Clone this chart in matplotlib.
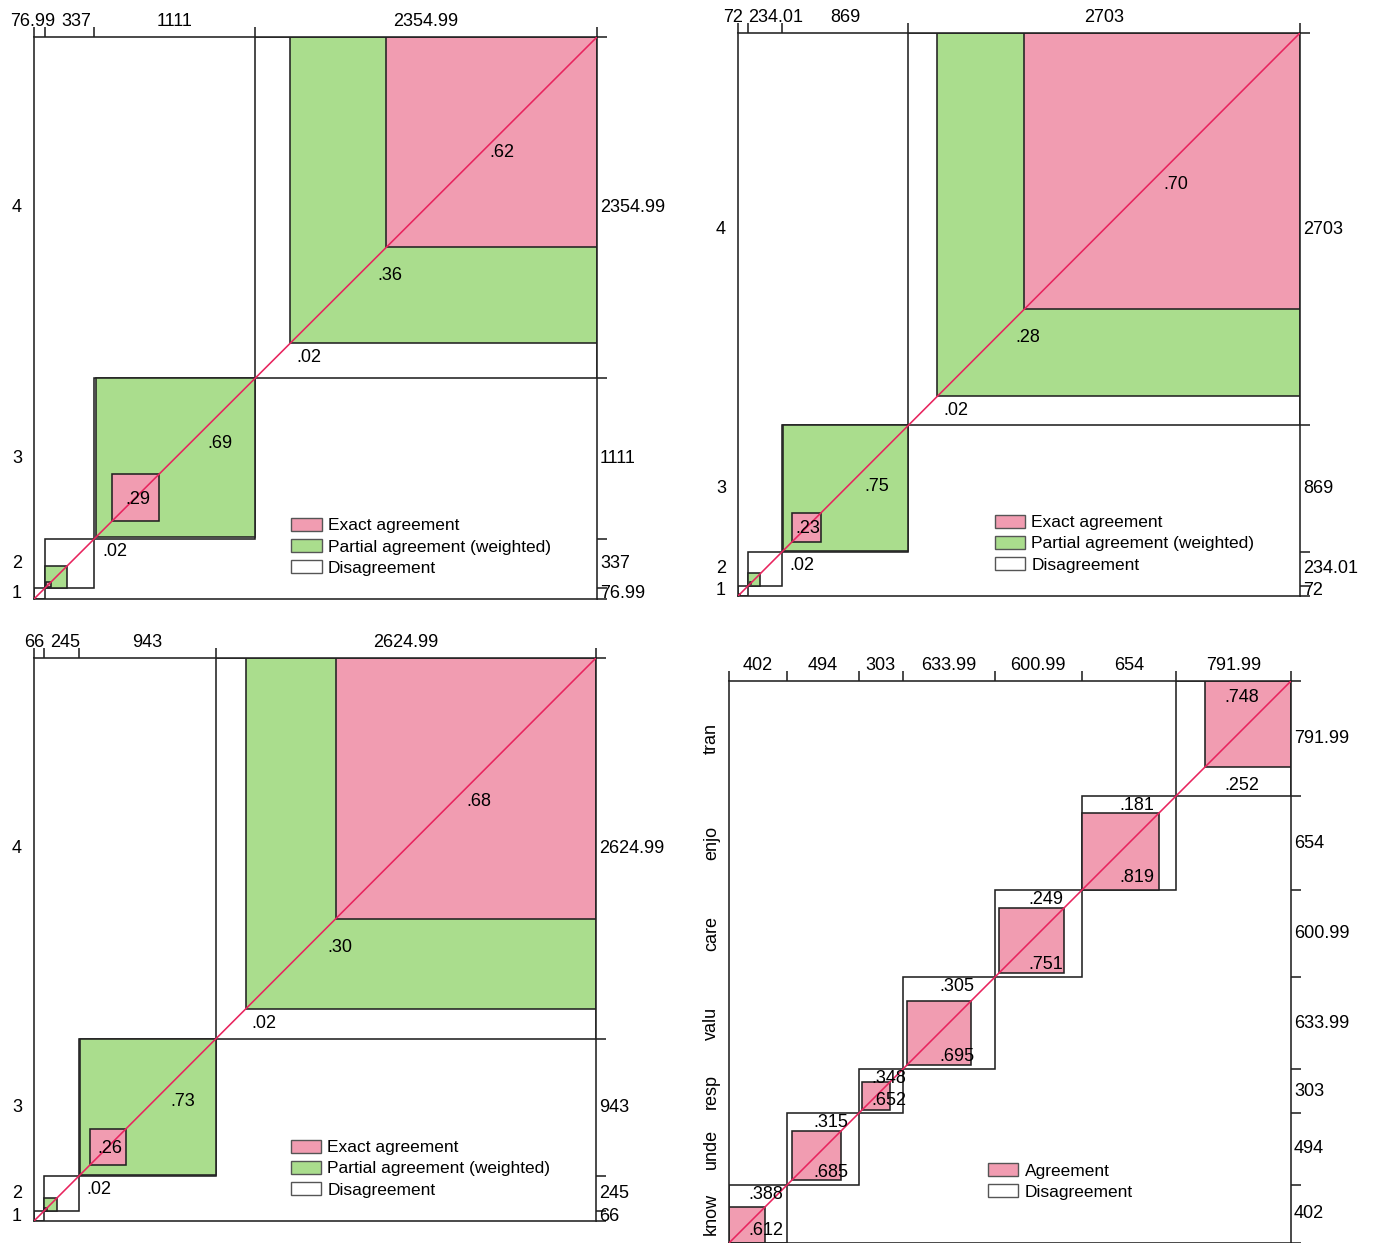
"""Agreement charts (Bangdiwala style) for four rating tables, saved to out.png."""
import numpy as np
import matplotlib
matplotlib.use("Agg")
import matplotlib.pyplot as plt
from matplotlib.patches import Rectangle, Patch

plt.rcParams["font.family"] = ["Liberation Sans", "DejaVu Sans"]

# ---------------------------------------------------------------------------
# Data
# ---------------------------------------------------------------------------
levels = ["1", "2", "3", "4"]

# panel 1 (top left)
p1_totals = [76.99, 337, 1111, 2354.99]
p1_table = [
    [2, 7, 14, 53.99],
    [7, 31, 112, 187],
    [14, 112, 324, 661],
    [53.99, 187, 661, 1453],
]
p1_exact = [None, None, ".29", ".62"]
p1_partial = [None, None, ".69", ".36"]
p1_disagree = [None, None, ".02", ".02"]

# panel 2 (top right)
p2_totals = [72, 234.01, 869, 2703]
p2_table = [
    [4.01, 12, 7, 48.99],
    [12, 9, 62, 151.01],
    [7, 62, 200, 600],
    [48.99, 151.01, 600, 1903],
]
p2_exact = [None, None, ".23", ".70"]
p2_partial = [None, None, ".75", ".28"]
p2_disagree = [None, None, ".02", ".02"]

# panel 3 (bottom left)
p3_totals = [66, 245, 943, 2624.99]
p3_table = [
    [2.01, 6, 7, 50.99],
    [6, 15, 69, 155],
    [7, 69, 245, 622],
    [50.99, 155, 622, 1797],
]
p3_exact = [None, None, ".26", ".68"]
p3_partial = [None, None, ".73", ".30"]
p3_disagree = [None, None, ".02", ".02"]

# panel 4 (bottom right), exact agreement only
p4_cats = ["know", "unde", "resp", "valu", "care", "enjo", "tran"]
p4_totals = [402, 494, 303, 633.99, 600.99, 654, 791.99]
p4_agree = [0.612, 0.685, 0.652, 0.695, 0.751, 0.819, 0.748]
p4_before = [0, 35, 21, 28, 28, 0, 200]   # disagreements placed before the diagonal cell

# ---------------------------------------------------------------------------
# Style
# ---------------------------------------------------------------------------
W, H, DPI = 1373, 1243, 100
PINK = "#f19cb1"
GREEN = "#aadd8d"
EDGE = "#222222"
DIAG = "#e8245e"
LW = 1.15
FS = 13


def px(v):
    """pixels -> points"""
    return v * 72 / DPI


def add_axes_px(fig, left, top, right, bottom):
    return fig.add_axes([left / W, 1 - bottom / H, (right - left) / W, (bottom - top) / H])


def frame(ax, cats, totals, rotate_left=False):
    edges = np.concatenate([[0], np.cumsum(totals)])
    n = edges[-1]
    ax.set_xlim(0, n)
    ax.set_ylim(0, n)
    for s in ax.spines.values():
        s.set_linewidth(LW)
        s.set_color(EDGE)
        s.set_zorder(5)
    ax.xaxis.tick_top()
    ax.yaxis.tick_right()
    ax.set_xticks(edges)
    ax.set_yticks(edges)
    ax.tick_params(direction="out", length=px(10), width=LW, color=EDGE,
                   labeltop=False, labelbottom=False, labelleft=False, labelright=False)

    centers = (edges[:-1] + edges[1:]) / 2
    top_texts = []
    for c, v in zip(centers, totals):
        lbl = f"{v:g}"
        top_texts.append(ax.annotate(lbl, (c, 1), xycoords=("data", "axes fraction"),
                                     xytext=(0, px(11)), textcoords="offset points",
                                     ha="center", va="baseline", fontsize=FS))
        ax.annotate(lbl, (1, c), xycoords=("axes fraction", "data"),
                    xytext=(px(3), 0), textcoords="offset points",
                    ha="left", va="center", fontsize=FS)

    for c, name in zip(centers, cats):
        if rotate_left:
            ax.annotate(name, (0, c), xycoords=("axes fraction", "data"),
                        xytext=(px(-9), 0), textcoords="offset points",
                        ha="right", va="center", rotation=90, fontsize=FS)
        else:
            ax.annotate(name, (0, c), xycoords=("axes fraction", "data"),
                        xytext=(px(-12), 0), textcoords="offset points",
                        ha="right", va="center", fontsize=FS)
    ax.plot([0, n], [0, n], color=DIAG, lw=LW, zorder=6)
    return edges, top_texts


def note(ax, text, xy, dx, dy, ha="left", va="top"):
    ax.annotate(text, xy, xytext=(px(dx), px(dy)), textcoords="offset points",
                ha=ha, va=va, fontsize=FS, zorder=7)


def weighted_panel(ax, cats, totals, table, exact, partial, disagree):
    m = np.array(table, dtype=float)
    k = len(cats)
    edges, top_texts = frame(ax, cats, totals)
    for i in range(k):
        x0 = edges[i]
        w = totals[i]
        ax.add_patch(Rectangle((x0, x0), w, w, fc="white", ec=EDGE, lw=LW, zorder=1))
        lo_x, hi_x = m[i, :max(i - 1, 0)].sum(), m[i, :min(i + 2, k)].sum()
        lo_y, hi_y = m[:max(i - 1, 0), i].sum(), m[:min(i + 2, k), i].sum()
        ax.add_patch(Rectangle((x0 + lo_x, x0 + lo_y), hi_x - lo_x, hi_y - lo_y,
                               fc=GREEN, ec=EDGE, lw=LW, zorder=2))
        off_x, off_y = m[i, :i].sum(), m[:i, i].sum()
        d = m[i, i]
        ax.add_patch(Rectangle((x0 + off_x, x0 + off_y), d, d,
                               fc=PINK, ec=EDGE, lw=LW, zorder=3))
        if exact[i] is None:
            continue
        # exact label a little below-right of the square's centre
        cx = x0 + off_x + d * 0.55
        cy = x0 + off_y + d * 0.45
        note(ax, exact[i], (cx, cy), 0, 0, ha="center", va="center")
        if i < k - 1:
            mx = (x0 + off_x + d + x0 + hi_x) / 2
            my = (x0 + off_y + d + x0 + hi_y) / 2
            note(ax, partial[i], (mx, my), 0, -9)
        else:
            note(ax, partial[i], (x0 + off_x, x0 + off_y), 4, -20, ha="center")
        note(ax, disagree[i], (x0 + lo_x, x0 + lo_y), 6, -6)
    handles = [Patch(fc=PINK, ec="#555555", lw=1),
               Patch(fc=GREEN, ec="#555555", lw=1),
               Patch(fc="white", ec="#555555", lw=1)]
    names = ["Exact agreement", "Partial agreement (weighted)", "Disagreement"]
    ax.legend(handles, names, loc="upper left", bbox_to_anchor=(0.457, 0.144),
              frameon=False, fontsize=12.5, handlelength=1.75, handleheight=0.75,
              handletextpad=0.35, labelspacing=0.33, borderpad=0, borderaxespad=0)
    return top_texts


def exact_panel(ax, cats, totals, agree, before):
    edges, top_texts = frame(ax, cats, totals, rotate_left=True)
    for i in range(len(cats)):
        x0 = edges[i]
        w = totals[i]
        d = agree[i] * w
        off = before[i]
        after = w - off - d
        ax.add_patch(Rectangle((x0, x0), w, w, fc="white", ec=EDGE, lw=LW, zorder=1))
        ax.add_patch(Rectangle((x0 + off, x0 + off), d, d, fc=PINK, ec=EDGE, lw=LW, zorder=3))
        xc = x0 + w / 2
        a_txt = f"{agree[i]:.3f}".lstrip("0")
        d_txt = f"{1 - agree[i]:.3f}".lstrip("0")
        if off > after:
            note(ax, d_txt, (xc, x0), 8, 2, ha="center", va="bottom")
            note(ax, a_txt, (xc, x0 + w), 8, -8, ha="center", va="top")
        else:
            note(ax, d_txt, (xc, x0 + w), 8, -1, ha="center", va="top")
            note(ax, a_txt, (xc, x0), 8, 4, ha="center", va="bottom")
    handles = [Patch(fc=PINK, ec="#555555", lw=1), Patch(fc="white", ec="#555555", lw=1)]
    ax.legend(handles, ["Agreement", "Disagreement"], loc="upper left",
              bbox_to_anchor=(0.461, 0.142), frameon=False, fontsize=12.5,
              handlelength=1.75, handleheight=0.75, handletextpad=0.35,
              labelspacing=0.33, borderpad=0, borderaxespad=0)
    return top_texts


def spread(texts, renderer, gap=6):
    """Push neighbouring top labels apart where they would overlap."""
    boxes = [t.get_window_extent(renderer) for t in texts]
    shifts = [0.0] * len(texts)
    for i in range(len(texts) - 1):
        over = (boxes[i].x1 + shifts[i]) + gap - (boxes[i + 1].x0 + shifts[i + 1])
        if over > 0:
            shifts[i] -= over / 2
            shifts[i + 1] += over / 2
    for t, s in zip(texts, shifts):
        x, y = t.xyann
        t.xyann = (x + px(s), y)


fig = plt.figure(figsize=(W / DPI, H / DPI), dpi=DPI)
ax1 = add_axes_px(fig, 34, 37, 597, 599)
ax2 = add_axes_px(fig, 738, 33, 1300, 596)
ax3 = add_axes_px(fig, 34, 658, 596, 1221)
ax4 = add_axes_px(fig, 729, 681, 1291, 1243)

tops = [
    weighted_panel(ax1, levels, p1_totals, p1_table, p1_exact, p1_partial, p1_disagree),
    weighted_panel(ax2, levels, p2_totals, p2_table, p2_exact, p2_partial, p2_disagree),
    weighted_panel(ax3, levels, p3_totals, p3_table, p3_exact, p3_partial, p3_disagree),
    exact_panel(ax4, p4_cats, p4_totals, p4_agree, p4_before),
]

fig.canvas.draw()
renderer = fig.canvas.get_renderer()
for texts in tops:
    spread(texts, renderer)

fig.savefig("out.png", dpi=DPI)
